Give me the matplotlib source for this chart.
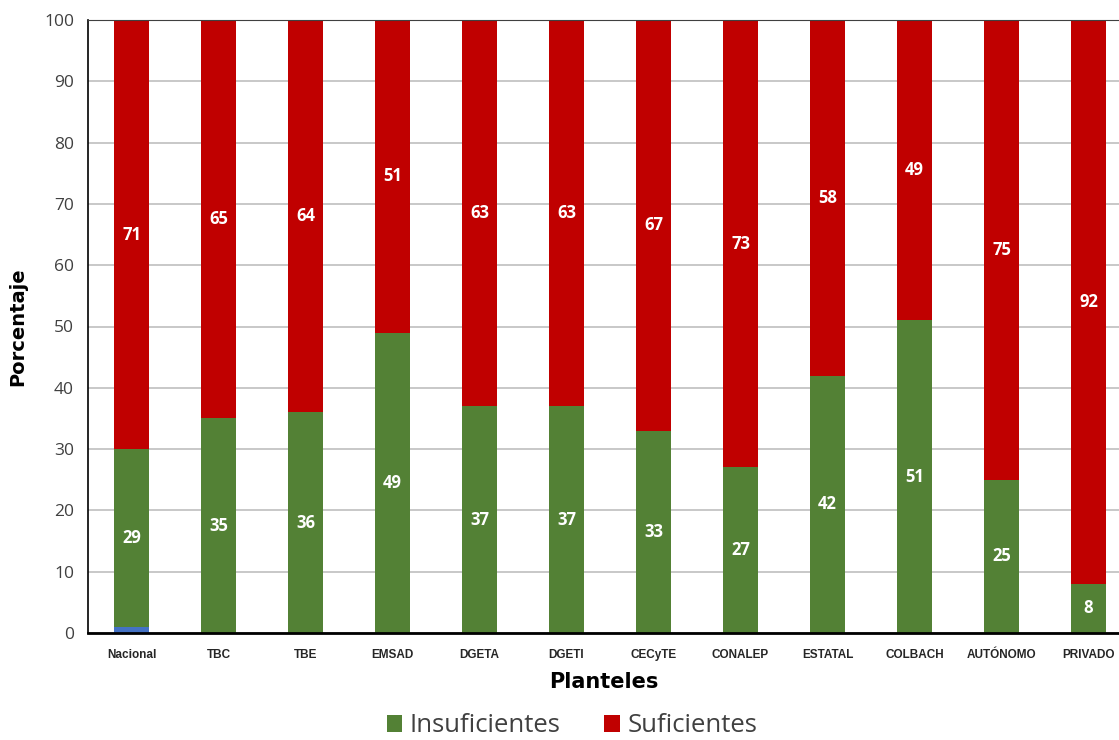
import matplotlib.pyplot as plt
import numpy as np

planteles = ['Nacional', 'TBC', 'TBE', 'EMSAD', 'DGETA', 'DGETI', 'CECyTE',
             'CONALEP', 'ESTATAL', 'COLBACH', 'AUTÓNOMO', 'PRIVADO']
otros = [1, 0, 0, 0, 0, 0, 0, 0, 0, 0, 0, 0]
insuficientes = [29, 35, 36, 49, 37, 37, 33, 27, 42, 51, 25, 8]
suficientes = [71, 65, 64, 51, 63, 63, 67, 73, 58, 49, 75, 92]

plt.rcParams['font.family'] = ['Open Sans', 'DejaVu Sans']

fig = plt.figure(figsize=(11.19, 7.40), dpi=100)
ax = fig.add_axes([88 / 1119, 1 - 633 / 740, 1 - 88 / 1119, 613 / 740])

x = np.arange(len(planteles))
w = 0.4
otros = np.array(otros)
ins = np.array(insuficientes)
suf = np.array(suficientes)

ax.bar(x, otros, w, color='#4472c4', zorder=2)
ax.bar(x, ins, w, bottom=otros, color='#538135', label='Insuficientes', zorder=2)
ax.bar(x, suf, w, bottom=otros + ins, color='#c00000', label='Suficientes', zorder=2)

for i in range(len(x)):
    ax.text(x[i], otros[i] + ins[i] / 2, str(ins[i]), ha='center', va='center',
            color='white', fontsize=12, fontweight='bold', zorder=3)
    top = min(100, otros[i] + ins[i] + suf[i])
    ax.text(x[i], (otros[i] + ins[i] + top) / 2, str(suf[i]), ha='center', va='center',
            color='white', fontsize=12, fontweight='bold', zorder=3)

ax.set_ylim(0, 100)
ax.set_xlim(-0.5, 11.35)
ax.set_yticks(range(0, 101, 10))
ax.yaxis.grid(True, color='#bfbfbf', linewidth=1.2, zorder=0)
ax.set_axisbelow(True)
ax.tick_params(axis='y', length=0, labelsize=12.5, labelcolor='#404040', pad=10)
ax.tick_params(axis='x', length=0, pad=18)
ax.set_xticks(x)
ax.set_xticklabels(planteles, family=['Liberation Sans', 'DejaVu Sans'],
                   fontweight='bold', fontsize=8.5, color='#262626', va='baseline')

ax.spines['right'].set_visible(False)
ax.spines['top'].set_color('#404040')
ax.spines['left'].set_color('black')
ax.spines['left'].set_linewidth(1.2)
ax.spines['bottom'].set_color('black')
ax.spines['bottom'].set_linewidth(2)

ax.set_ylabel('Porcentaje', fontsize=14, fontweight='bold', labelpad=12,
              family=['DejaVu Sans'])
ax.set_xlabel('Planteles', fontsize=15, fontweight='bold', labelpad=8,
              family=['DejaVu Sans'])

handles, labels = ax.get_legend_handles_labels()
fig.legend(handles[-2:], labels[-2:], loc='center', bbox_to_anchor=(572 / 1119, 1 - 726 / 740),
           ncol=2, frameon=False, fontsize=18.5, handlelength=0.6, handleheight=0.6,
           handletextpad=0.3, columnspacing=1.7, labelcolor='#404040',
           borderpad=0.1)

fig.savefig('out.png', dpi=100)
